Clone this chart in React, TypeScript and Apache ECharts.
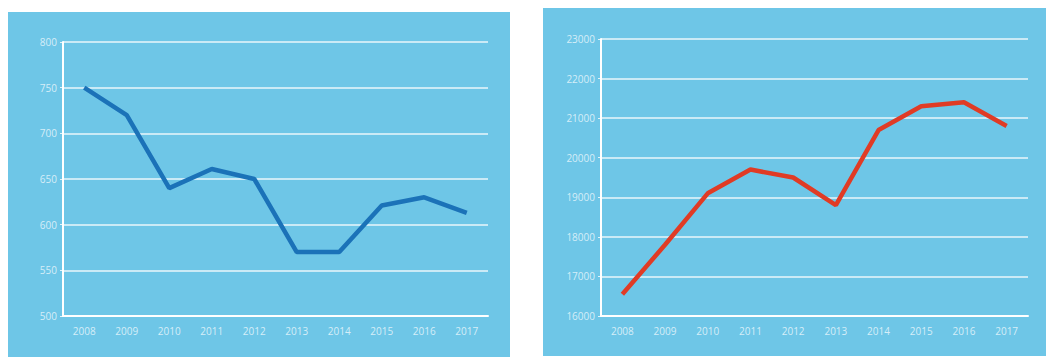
import React, { useEffect, useRef } from "react";
import * as echarts from "echarts";

const years = ["2008", "2009", "2010", "2011", "2012", "2013", "2014", "2015", "2016", "2017"];
const leftValues = [750, 720, 640, 661, 650, 570, 570, 621, 630, 613];
const rightValues = [16550, 17800, 19100, 19700, 19500, 18800, 20700, 21300, 21400, 20800];

const BG = "#6ec6e7";
const LABEL = "rgba(255,255,255,0.72)";
const GRIDLINE = "rgba(255,255,255,0.85)";

export default function App() {
  const ref = useRef<HTMLDivElement>(null);
  useEffect(() => {
    if (!ref.current) return;
    const chart = echarts.init(ref.current, undefined, { renderer: "svg" });
    const xAxisCommon = (gridIndex: number) => ({
      type: "category" as const,
      gridIndex,
      data: years,
      boundaryGap: true,
      axisLine: { show: true, lineStyle: { color: "#ffffff", width: 2 } },
      axisTick: { show: false },
      axisLabel: { color: LABEL, fontSize: 10, margin: 10, fontFamily: "Open Sans" },
      splitLine: { show: false },
    });
    const yAxisCommon = (gridIndex: number, min: number, max: number, interval: number) => ({
      type: "value" as const,
      gridIndex,
      min,
      max,
      interval,
      axisLine: { show: true, lineStyle: { color: "#ffffff", width: 2 } },
      axisTick: { show: true, length: 3, lineStyle: { color: "rgba(255,255,255,0.8)" } },
      axisLabel: {
        color: LABEL,
        fontSize: 10,
        margin: 6,
        fontFamily: "Open Sans",
        formatter: (v: number) => String(v),
      },
      splitLine: { show: true, lineStyle: { color: GRIDLINE, width: 1.5 } },
    });
    chart.setOption({
      animation: false,
      graphic: [
        { type: "rect", shape: { x: 8, y: 12, width: 502, height: 345 }, style: { fill: BG }, z: -10 },
        { type: "rect", shape: { x: 543, y: 8, width: 503, height: 348 }, style: { fill: BG }, z: -10 },
      ],
      grid: [
        { left: 63, right: 558, top: 42, bottom: 43 },
        { left: 601, right: 18, top: 39, bottom: 43 },
      ],
      xAxis: [xAxisCommon(0), xAxisCommon(1)],
      yAxis: [yAxisCommon(0, 500, 800, 50), yAxisCommon(1, 16000, 23000, 1000)],
      series: [
        {
          type: "line",
          xAxisIndex: 0,
          yAxisIndex: 0,
          data: leftValues,
          symbol: "none",
          lineStyle: { color: "#1b72b8", width: 4.5 },
        },
        {
          type: "line",
          xAxisIndex: 1,
          yAxisIndex: 1,
          data: rightValues,
          symbol: "none",
          lineStyle: { color: "#e03b25", width: 4.5 },
        },
      ],
    });
    return () => chart.dispose();
  }, []);
  return (
    <div
      ref={ref}
      style={{ position: "fixed", left: 0, top: 0, width: 1046, height: 359, background: "#ffffff" }}
    />
  );
}
